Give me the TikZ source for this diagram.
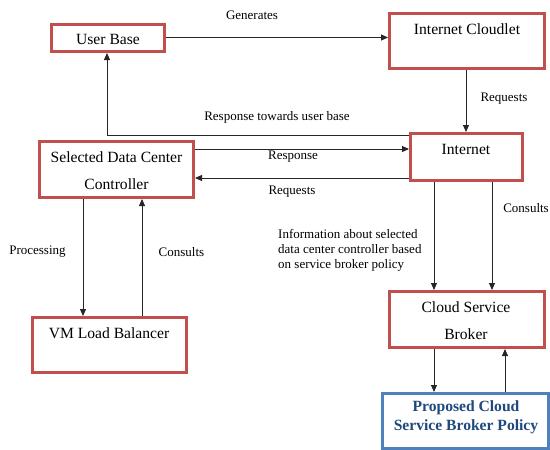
\documentclass[tikz,border=0pt]{standalone}
\usepackage{fontspec}
\setmainfont{Liberation Serif}
\usetikzlibrary{arrows.meta}
\definecolor{boxred}{HTML}{C0504D}
\definecolor{boxblue}{HTML}{4F81BD}
\definecolor{txtblue}{RGB}{31,73,125}
\tikzset{
  redbox/.style={draw=boxred, line width=3pt, rectangle, inner sep=0pt},
  bluebox/.style={draw=boxblue, line width=3pt, rectangle, inner sep=0pt},
  boxtxt/.style={font=\fontsize{15.6}{18}\selectfont, inner sep=0pt},
  lbl/.style={font=\fontsize{13}{15}\selectfont, inner sep=0pt},
  arr/.style={draw=black!85, line width=0.9pt, -{Triangle[length=7pt,width=6pt]}}
}
\begin{document}
\begin{tikzpicture}[x=1pt,y=-1pt]
\useasboundingbox[fill=white] (0,0) rectangle (550,450);
% boxes
\node[redbox, minimum width=113pt, minimum height=27pt] (ub) at (108,38) {};
\node[redbox, minimum width=155pt, minimum height=55pt] (cl) at (467,41) {};
\node[redbox, minimum width=112pt, minimum height=47pt] (in) at (466.5,157) {};
\node[redbox, minimum width=154pt, minimum height=56pt] (dc) at (116.5,169.5) {};
\node[redbox, minimum width=154pt, minimum height=55pt] (vm) at (109.5,345) {};
\node[redbox, minimum width=155pt, minimum height=56pt] (br) at (467,319.5) {};
\node[bluebox, minimum width=166pt, minimum height=55pt] (po) at (465.5,421) {};
% box texts
\node[boxtxt] (tub) at (108,39) {User Base};
\node[boxtxt] (tcl) at (467,29) {Internet Cloudlet};
\node[boxtxt] (tin) at (466,149) {Internet};
\node[boxtxt] (tdc1) at (116.5,157) {Selected Data Center};
\node[boxtxt] (tdc2) at (116.5,184) {Controller};
\node[boxtxt] (tvm) at (109,333) {VM Load Balancer};
\node[boxtxt] (tbr1) at (466,307) {Cloud Service};
\node[boxtxt] (tbr2) at (466,334) {Broker};
\node[boxtxt, font=\fontsize{15.6}{18}\selectfont\bfseries, text=txtblue] (tpo1) at (466,408) {Proposed Cloud};
\node[boxtxt, font=\fontsize{15.6}{18}\selectfont\bfseries, text=txtblue] (tpo2) at (466,427) {Service Broker Policy};
% connectors
\draw[arr] (ub.east |- 0,37.5) -- (cl.west |- 0,37.5);
\draw[arr] (cl.south -| 466,0) -- (in.north -| 466,0);
\draw[arr] (in.west |- 0,135) -| (ub.south -| 107,0);
\draw[arr] (dc.east |- 0,149) -- (in.west |- 0,149);
\draw[arr] (in.west |- 0,178) -- (dc.east |- 0,178);
\draw[arr] (in.south -| 434,0) -- (br.north -| 434,0);
\draw[arr] (in.south -| 492,0) -- (br.north -| 492,0);
\draw[arr] (dc.south -| 83,0) -- (vm.north -| 83,0);
\draw[arr] (vm.north -| 142,0) -- (dc.south -| 142,0);
\draw[arr] (br.south -| 434,0) -- (po.north -| 434,0);
\draw[arr] (po.north -| 505,0) -- (br.south -| 505,0);
% labels
\node[lbl] (lgen) at (252,15) {Generates};
\node[lbl] (lreq1) at (504,99) {Requests};
\node[lbl] (lrtu) at (277,117) {Response towards user base};
\node[lbl] (lresp) at (293,157) {Response};
\node[lbl] (lreq2) at (292,192) {Requests};
\node[lbl, anchor=east] (lcons1) at (549,208) {Consults};
\node[lbl, anchor=north west, align=left] (linfo) at (278,229) {Information about selected\\data center controller based\\on service broker policy};
\node[lbl] (lproc) at (37.5,252) {Processing};
\node[lbl] (lcons2) at (181.5,252) {Consults};
\end{tikzpicture}
\end{document}
